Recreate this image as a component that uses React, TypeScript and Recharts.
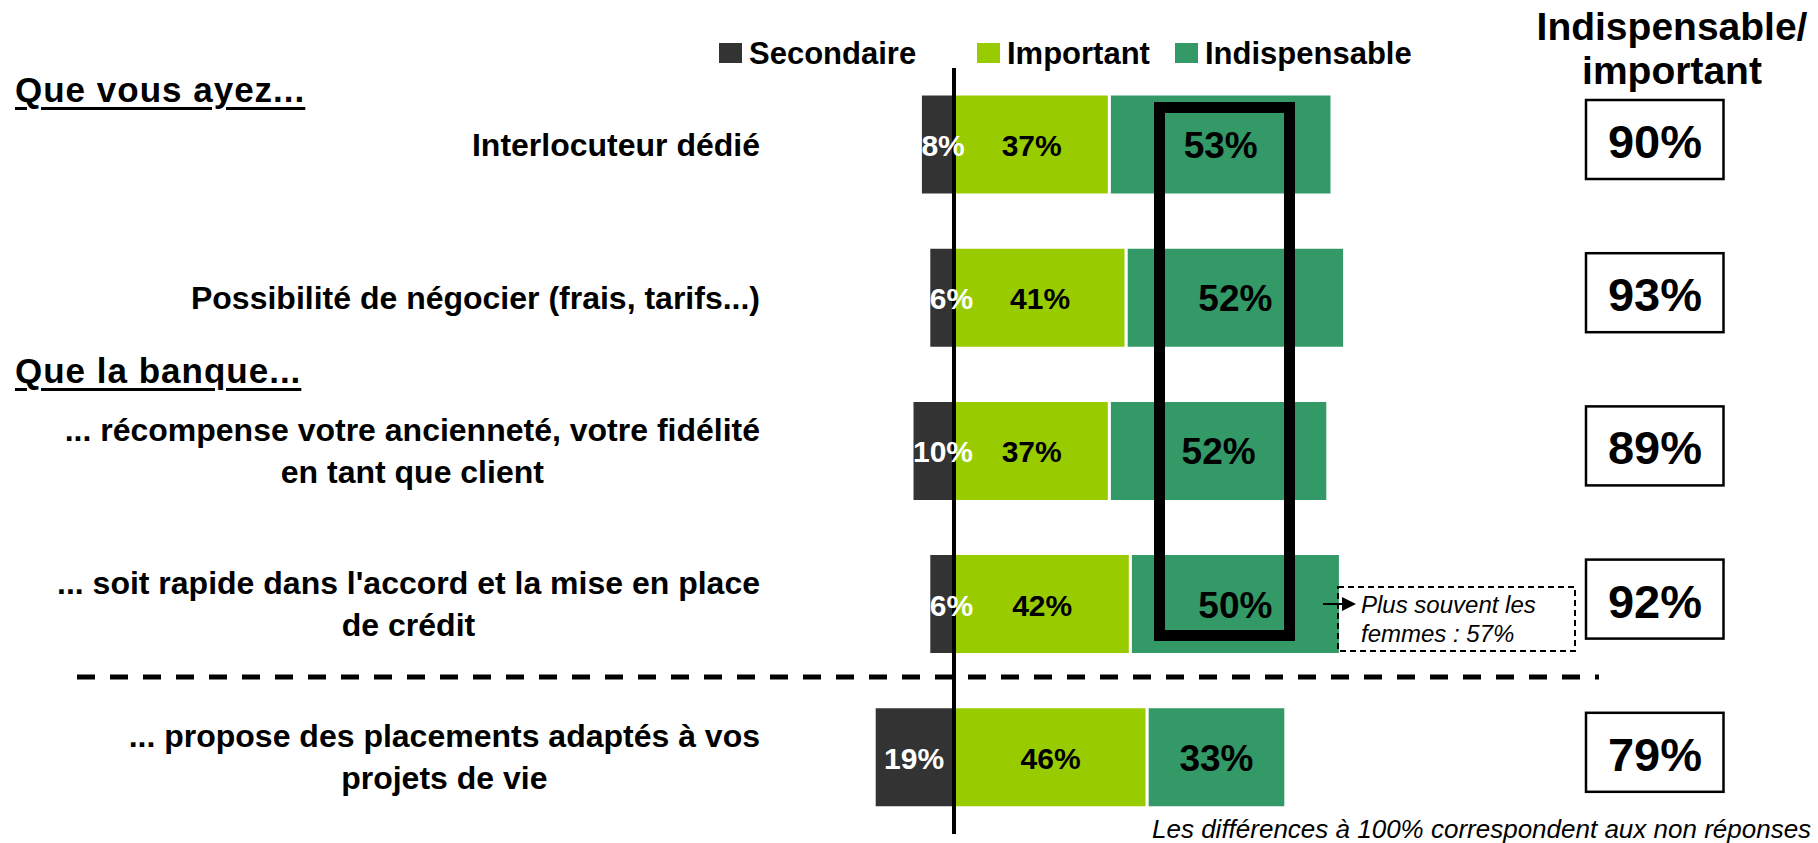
import React from "react";
import { Bar, BarChart, XAxis, YAxis, ReferenceLine, LabelList } from "recharts";

// catégories (retour à la ligne = "\n")
const CATEGORIES = [
  "Interlocuteur dédié",
  "Possibilité de négocier (frais, tarifs...)",
  "... récompense votre ancienneté, votre fidélité\nen tant que client",
  "... soit rapide dans l'accord et la mise en place\nde crédit",
  "... propose des placements adaptés à vos\nprojets de vie",
];
const SECONDAIRE = [8, 6, 10, 6, 19];
const IMPORTANT = [37, 41, 37, 42, 46];
const INDISPENSABLE = [53, 52, 52, 50, 33];
const TOTAL = [90, 93, 89, 92, 79];

const SERIES = [
  { key: "secondaire", name: "Secondaire", color: "#333333" },
  { key: "important", name: "Important", color: "#99CC00" },
  { key: "indispensable", name: "Indispensable", color: "#339966" },
];

const FONT = "'Liberation Sans', Arial, sans-serif";
const W = 1818;
const H = 843;
const LABEL_RIGHT = 760;
const BOX_X = 1586;

const data = CATEGORIES.map((name, i) => ({
  name,
  secondaire: -SECONDAIRE[i],
  important: IMPORTANT[i],
  indispensable: INDISPENSABLE[i],
  total: TOTAL[i],
}));

let ctx: CanvasRenderingContext2D | null = null;
function measure(text: string, font: string) {
  if (!ctx) ctx = document.createElement("canvas").getContext("2d");
  if (!ctx) return text.length * 15;
  ctx.font = font;
  return ctx.measureText(text).width;
}

function CategoryTick(props: any) {
  const { y, payload } = props;
  const lines: string[] = String(payload.value).split("\n");
  const maxW = Math.max(...lines.map((l) => measure(l, `bold 32px ${FONT}`)));
  const cx = LABEL_RIGHT - maxW / 2;
  return (
    <g>
      {lines.map((l, i) => (
        <text
          key={i}
          x={cx}
          y={y + (i - (lines.length - 1) / 2) * 42}
          textAnchor="middle"
          dominantBaseline="central"
          fontFamily={FONT}
          fontWeight="bold"
          fontSize={32}
          fill="#000"
        >
          {l}
        </text>
      ))}
    </g>
  );
}

const darkLabel = (props: any) => {
  const { x, y, width, height, value } = props;
  const left = Math.min(x, x + width);
  const w = Math.abs(width);
  const txt = `${Math.abs(value)}%`;
  const tw = measure(txt, `bold 30px ${FONT}`);
  const start = Math.max(left + 1, left + w / 2 - tw / 2);
  return (
    <text x={start} y={y + height / 2 + 1} dominantBaseline="central" fontFamily={FONT}
      fontWeight="bold" fontSize={30} fill="#fff">
      {txt}
    </text>
  );
};

const centerLabel = (size: number) => (props: any) => {
  const { x, y, width, height, value } = props;
  return (
    <text x={x + width / 2} y={y + height / 2 + 1} textAnchor="middle" dominantBaseline="central"
      fontFamily={FONT} fontWeight="bold" fontSize={size} fill="#000">
      {`${value}%`}
    </text>
  );
};

const totalBox = (props: any) => {
  const { y, height, index } = props;
  const cy = y + height / 2 - 5;
  return (
    <g>
      <rect x={BOX_X} y={cy - 39.5} width={137.5} height={79} fill="#fff" stroke="#000" strokeWidth={2.5} />
      <text x={BOX_X + 69} y={cy + 2} textAnchor="middle" dominantBaseline="central"
        fontFamily={FONT} fontWeight="bold" fontSize={47} fill="#000">
        {`${TOTAL[index]}%`}
      </text>
    </g>
  );
};

function LegendRow() {
  const pos = [719, 977, 1175];
  return (
    <>
      {SERIES.map((s, i) => (
        <div key={s.key} style={{ position: "absolute", left: pos[i], top: 38, display: "flex", alignItems: "flex-start" }}>
          <div style={{ width: 23, height: 20, background: s.color, marginTop: 5, marginRight: 7 }} />
          <div style={{ fontFamily: FONT, fontWeight: "bold", fontSize: 31, lineHeight: "31px" }}>{s.name}</div>
        </div>
      ))}
    </>
  );
}

const heading: React.CSSProperties = {
  position: "absolute",
  left: 15,
  fontFamily: FONT,
  fontWeight: "bold",
  fontSize: 35,
  lineHeight: "35px",
  letterSpacing: 1,
  textDecoration: "underline",
  textDecorationThickness: 3,
  textUnderlineOffset: 5,
  whiteSpace: "nowrap",
};

export default function App() {
  return (
    <div style={{ position: "absolute", left: 0, top: 0, width: W, height: H, overflow: "hidden", background: "#fff" }}>
      <BarChart
        width={W}
        height={H}
        data={data}
        layout="vertical"
        stackOffset="sign"
        margin={{ top: 68, right: 444, bottom: 9, left: 0 }}
      >
        <XAxis type="number" domain={[-20, 100]} hide />
        <YAxis
          type="category"
          dataKey="name"
          width={870}
          axisLine={false}
          tickLine={false}
          interval={0}
          tick={(p: any) => <CategoryTick {...p} />}
        />
        {SERIES.map((s) => (
          <Bar key={s.key} dataKey={s.key} name={s.name} stackId="a" fill={s.color}
            stroke="#fff" strokeWidth={3} barSize={101} isAnimationActive={false}>
            {s.key === "secondaire" && <LabelList dataKey={s.key} content={darkLabel} />}
            {s.key === "important" && <LabelList dataKey={s.key} content={centerLabel(30)} />}
            {s.key === "indispensable" && <LabelList dataKey={s.key} content={centerLabel(37)} />}
            {s.key === "indispensable" && <LabelList dataKey="total" content={totalBox} />}
          </Bar>
        ))}
        <ReferenceLine x={0} stroke="#000" strokeWidth={4} />
      </BarChart>

      <svg width={W} height={H} style={{ position: "absolute", left: 0, top: 0, pointerEvents: "none" }}>
        {/* cadre de mise en avant */}
        <rect x={1159.5} y={107.5} width={130} height={528} fill="none" stroke="#000" strokeWidth={11} />
        {/* séparateur */}
        <line x1={77} y1={677} x2={1599} y2={677} stroke="#000" strokeWidth={5} strokeDasharray="18 15" />
        {/* annotation */}
        <rect x={1338} y={587} width={237} height={64} fill="none" stroke="#000" strokeWidth={2} strokeDasharray="6 4" />
        <line x1={1323} y1={604} x2={1344} y2={604} stroke="#000" strokeWidth={2} />
        <path d="M1342,597 L1356,604 L1342,611 Z" fill="#000" />
        <text x={1361} y={613} fontFamily={FONT} fontStyle="italic" fontSize={24} fill="#000">Plus souvent les</text>
        <text x={1361} y={642} fontFamily={FONT} fontStyle="italic" fontSize={24} fill="#000">femmes : 57%</text>
      </svg>

      <LegendRow />

      <div style={{ ...heading, top: 72 }}>Que vous ayez...</div>
      <div style={{ ...heading, top: 353 }}>Que la banque...</div>

      <div style={{ position: "absolute", left: 1522, top: 5, width: 300, textAlign: "center", fontFamily: FONT,
        fontWeight: "bold", fontSize: 39, lineHeight: "44px" }}>
        Indispensable/
        <br />
        important
      </div>

      <div style={{ position: "absolute", left: 1152, top: 816, fontFamily: FONT, fontStyle: "italic", fontSize: 26,
        lineHeight: "26px", whiteSpace: "nowrap" }}>
        Les différences à 100% correspondent aux non réponses
      </div>
    </div>
  );
}
